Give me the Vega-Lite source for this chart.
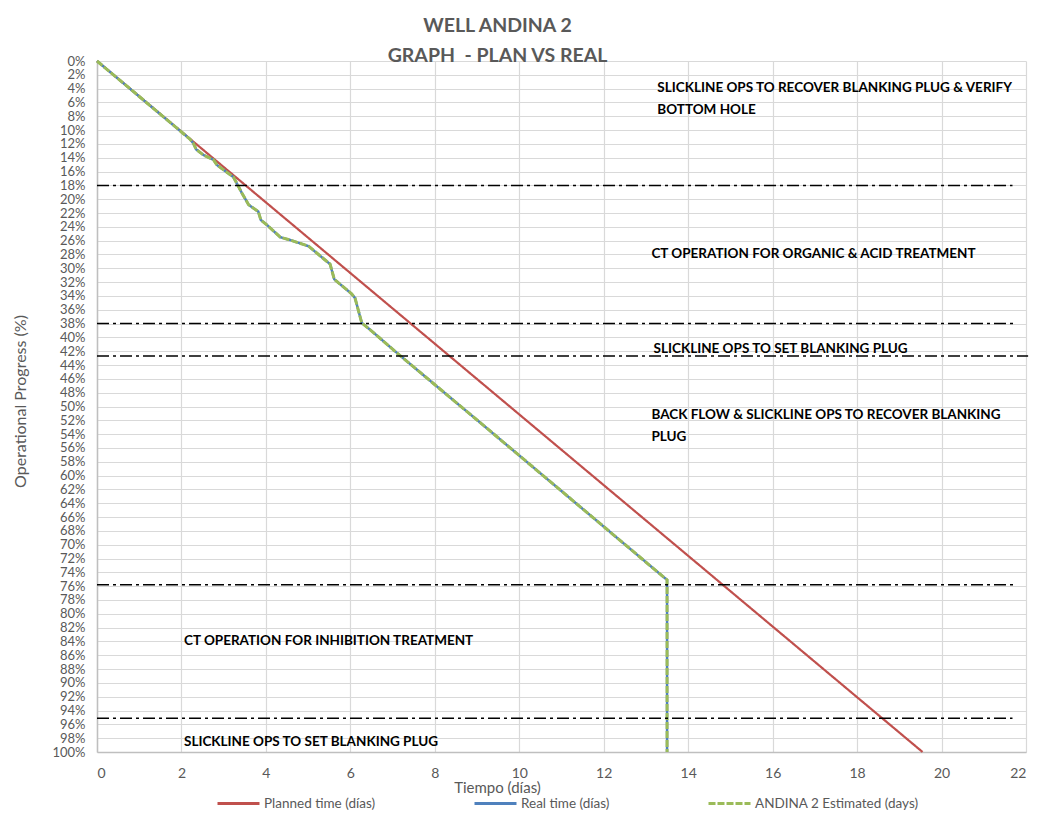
{
  "$schema": "https://vega.github.io/schema/vega-lite/v6.json",
  "width": 929,
  "height": 691,
  "autosize": {"type": "none"},
  "padding": {"left": 97, "top": 61, "right": 30, "bottom": 64},
  "background": "white",
  "config": {
    "font": "Lato",
    "view": {"stroke": null},
    "axis": {"labelColor": "#595959", "titleColor": "#595959", "gridColor": "#D9D9D9", "gridWidth": 1.2, "domainColor": "#BFBFBF", "domainWidth": 1.5, "ticks": false, "titleFontWeight": "normal"}
  },
  "title": {
    "text": ["WELL ANDINA 2", "GRAPH \u00a0- PLAN VS REAL"],
    "fontSize": 19.5,
    "fontWeight": "bold",
    "color": "#595959",
    "anchor": "middle",
    "dx": -64,
    "lineHeight": 30,
    "offset": -11
  },
  "datasets": {
    "series": [
      {"series": "Planned time (días)", "i": 0, "day": 0, "progress": 0},
      {"series": "Planned time (días)", "i": 1, "day": 19.55, "progress": 100},
      {"series": "Real time (días)", "i": 0, "day": 0, "progress": 0},
      {"series": "Real time (días)", "i": 1, "day": 2.2, "progress": 11.3},
      {"series": "Real time (días)", "i": 2, "day": 2.28, "progress": 11.9},
      {"series": "Real time (días)", "i": 3, "day": 2.35, "progress": 12.8},
      {"series": "Real time (días)", "i": 4, "day": 2.52, "progress": 13.6},
      {"series": "Real time (días)", "i": 5, "day": 2.76, "progress": 14.3},
      {"series": "Real time (días)", "i": 6, "day": 2.84, "progress": 15.05},
      {"series": "Real time (días)", "i": 7, "day": 3.23, "progress": 16.8},
      {"series": "Real time (días)", "i": 8, "day": 3.31, "progress": 17.7},
      {"series": "Real time (días)", "i": 9, "day": 3.43, "progress": 19.1},
      {"series": "Real time (días)", "i": 10, "day": 3.59, "progress": 20.8},
      {"series": "Real time (días)", "i": 11, "day": 3.82, "progress": 21.8},
      {"series": "Real time (días)", "i": 12, "day": 3.88, "progress": 23.0},
      {"series": "Real time (días)", "i": 13, "day": 4.02, "progress": 23.7},
      {"series": "Real time (días)", "i": 14, "day": 4.34, "progress": 25.5},
      {"series": "Real time (días)", "i": 15, "day": 4.57, "progress": 25.9},
      {"series": "Real time (días)", "i": 16, "day": 5.01, "progress": 26.8},
      {"series": "Real time (días)", "i": 17, "day": 5.52, "progress": 29.4},
      {"series": "Real time (días)", "i": 18, "day": 5.62, "progress": 31.6},
      {"series": "Real time (días)", "i": 19, "day": 6.03, "progress": 33.7},
      {"series": "Real time (días)", "i": 20, "day": 6.11, "progress": 34.3},
      {"series": "Real time (días)", "i": 21, "day": 6.27, "progress": 37.9},
      {"series": "Real time (días)", "i": 22, "day": 6.47, "progress": 38.9},
      {"series": "Real time (días)", "i": 23, "day": 7.18, "progress": 42.65},
      {"series": "Real time (días)", "i": 24, "day": 9.0, "progress": 51.95},
      {"series": "Real time (días)", "i": 25, "day": 13.5, "progress": 75.1},
      {"series": "Real time (días)", "i": 26, "day": 13.5, "progress": 100},
      {"series": "ANDINA 2 Estimated (days)", "i": 0, "day": 0, "progress": 0},
      {"series": "ANDINA 2 Estimated (days)", "i": 1, "day": 2.2, "progress": 11.3},
      {"series": "ANDINA 2 Estimated (days)", "i": 2, "day": 2.28, "progress": 11.9},
      {"series": "ANDINA 2 Estimated (days)", "i": 3, "day": 2.35, "progress": 12.8},
      {"series": "ANDINA 2 Estimated (days)", "i": 4, "day": 2.52, "progress": 13.6},
      {"series": "ANDINA 2 Estimated (days)", "i": 5, "day": 2.76, "progress": 14.3},
      {"series": "ANDINA 2 Estimated (days)", "i": 6, "day": 2.84, "progress": 15.05},
      {"series": "ANDINA 2 Estimated (days)", "i": 7, "day": 3.23, "progress": 16.8},
      {"series": "ANDINA 2 Estimated (days)", "i": 8, "day": 3.31, "progress": 17.7},
      {"series": "ANDINA 2 Estimated (days)", "i": 9, "day": 3.43, "progress": 19.1},
      {"series": "ANDINA 2 Estimated (days)", "i": 10, "day": 3.59, "progress": 20.8},
      {"series": "ANDINA 2 Estimated (days)", "i": 11, "day": 3.82, "progress": 21.8},
      {"series": "ANDINA 2 Estimated (days)", "i": 12, "day": 3.88, "progress": 23.0},
      {"series": "ANDINA 2 Estimated (days)", "i": 13, "day": 4.02, "progress": 23.7},
      {"series": "ANDINA 2 Estimated (days)", "i": 14, "day": 4.34, "progress": 25.5},
      {"series": "ANDINA 2 Estimated (days)", "i": 15, "day": 4.57, "progress": 25.9},
      {"series": "ANDINA 2 Estimated (days)", "i": 16, "day": 5.01, "progress": 26.8},
      {"series": "ANDINA 2 Estimated (days)", "i": 17, "day": 5.52, "progress": 29.4},
      {"series": "ANDINA 2 Estimated (days)", "i": 18, "day": 5.62, "progress": 31.6},
      {"series": "ANDINA 2 Estimated (days)", "i": 19, "day": 6.03, "progress": 33.7},
      {"series": "ANDINA 2 Estimated (days)", "i": 20, "day": 6.11, "progress": 34.3},
      {"series": "ANDINA 2 Estimated (days)", "i": 21, "day": 6.27, "progress": 37.9},
      {"series": "ANDINA 2 Estimated (days)", "i": 22, "day": 6.47, "progress": 38.9},
      {"series": "ANDINA 2 Estimated (days)", "i": 23, "day": 7.18, "progress": 42.65},
      {"series": "ANDINA 2 Estimated (days)", "i": 24, "day": 9.0, "progress": 51.95},
      {"series": "ANDINA 2 Estimated (days)", "i": 25, "day": 13.5, "progress": 75.1},
      {"series": "ANDINA 2 Estimated (days)", "i": 26, "day": 13.5, "progress": 100}
    ],
    "phases": [
      {"day": 0, "day2": 21.68, "progress": 18},
      {"day": 0, "day2": 21.78, "progress": 38},
      {"day": 0, "day2": 22.05, "progress": 42.7},
      {"day": 0, "day2": 21.73, "progress": 75.8},
      {"day": 0, "day2": 21.68, "progress": 95.1}
    ],
    "notes": [
      {"label": "SLICKLINE OPS TO RECOVER BLANKING PLUG & VERIFY", "day": 13.27, "progress": 3.9},
      {"label": "BOTTOM HOLE", "day": 13.27, "progress": 7.1},
      {"label": "CT OPERATION FOR ORGANIC & ACID TREATMENT", "day": 13.13, "progress": 27.9},
      {"label": "SLICKLINE OPS TO SET BLANKING PLUG", "day": 13.18, "progress": 41.7},
      {"label": "BACK FLOW & SLICKLINE OPS TO RECOVER BLANKING", "day": 13.13, "progress": 51.2},
      {"label": "PLUG", "day": 13.13, "progress": 54.4},
      {"label": "CT OPERATION FOR INHIBITION TREATMENT", "day": 2.06, "progress": 83.9},
      {"label": "SLICKLINE OPS TO SET BLANKING PLUG", "day": 2.06, "progress": 98.6}
    ]
  },
  "encoding": {
    "x": {
      "field": "day", "type": "quantitative",
      "scale": {"domain": [0, 22], "nice": false, "zero": true},
      "axis": {"values": [0,2,4,6,8,10,12,14,16,18,20,22], "title": "Tiempo (días)", "labelFontSize": 14, "labelPadding": 14, "titleFontSize": 15, "titleX": 400, "titleY": 28, "grid": true}
    },
    "y": {
      "field": "progress", "type": "quantitative",
      "scale": {"domain": [0, 100], "reverse": true, "nice": false},
      "axis": {"values": [0,2,4,6,8,10,12,14,16,18,20,22,24,26,28,30,32,34,36,38,40,42,44,46,48,50,52,54,56,58,60,62,64,66,68,70,72,74,76,78,80,82,84,86,88,90,92,94,96,98,100], "labelExpr": "datum.value + '%'", "labelFontSize": 13, "labelPadding": 12, "labelOverlap": false, "title": "Operational Progress (%)", "titleFontSize": 16, "titleX": -77, "titleY": 340, "titleAngle": -90, "titleAlign": "center", "titleBaseline": "middle", "grid": true}
    }
  },
  "layer": [
    {
      "data": {"name": "series"},
      "transform": [{"filter": "datum.series === 'Planned time (días)'"}],
      "mark": {"type": "line", "strokeWidth": 2.2},
      "encoding": {
        "order": {"field": "i", "type": "quantitative"},
        "color": {"field": "series", "type": "nominal", "scale": {"domain": ["Planned time (días)", "Real time (días)", "ANDINA 2 Estimated (days)"], "range": ["#C0504D", "#4F81BD", "#9BBB59"]}, "legend": {"title": null, "orient": "none", "direction": "horizontal", "legendX": 119, "legendY": 720, "columnPadding": 92, "symbolType": "stroke", "symbolSize": 1764, "symbolStrokeWidth": 3, "labelFontSize": 13.5, "labelColor": "#595959", "labelOffset": 3, "labelLimit": 0, "padding": 0}},
        "strokeDash": {"field": "series", "type": "nominal", "scale": {"domain": ["Planned time (días)", "Real time (días)", "ANDINA 2 Estimated (days)"], "range": [[1, 0], [1, 0], [7, 2]]}, "legend": {"title": null, "orient": "none", "direction": "horizontal", "legendX": 119, "legendY": 720, "columnPadding": 92, "symbolType": "stroke", "symbolSize": 1764, "symbolStrokeWidth": 3, "labelFontSize": 13.5, "labelColor": "#595959", "labelOffset": 3, "labelLimit": 0, "padding": 0}}
      }
    },
    {
      "data": {"name": "series"},
      "transform": [{"filter": "datum.series === 'Real time (días)'"}],
      "mark": {"type": "line", "strokeWidth": 2.5},
      "encoding": {
        "order": {"field": "i", "type": "quantitative"},
        "color": {"field": "series", "type": "nominal"},
        "strokeDash": {"field": "series", "type": "nominal"}
      }
    },
    {
      "data": {"name": "series"},
      "transform": [{"filter": "datum.series === 'ANDINA 2 Estimated (days)'"}],
      "mark": {"type": "line", "strokeWidth": 3},
      "encoding": {
        "order": {"field": "i", "type": "quantitative"},
        "color": {"field": "series", "type": "nominal"},
        "strokeDash": {"field": "series", "type": "nominal"}
      }
    },
    {
      "data": {"name": "phases"},
      "mark": {"type": "rule", "color": "black", "strokeWidth": 1.5, "strokeDash": [12, 4, 3, 4]},
      "encoding": {
        "x2": {"field": "day2"}
      }
    },
    {
      "data": {"name": "notes"},
      "mark": {"type": "text", "align": "left", "baseline": "middle", "fontWeight": "bold", "fontSize": 13.5, "color": "black"},
      "encoding": {
        "text": {"field": "label"}
      }
    }
  ]
}
